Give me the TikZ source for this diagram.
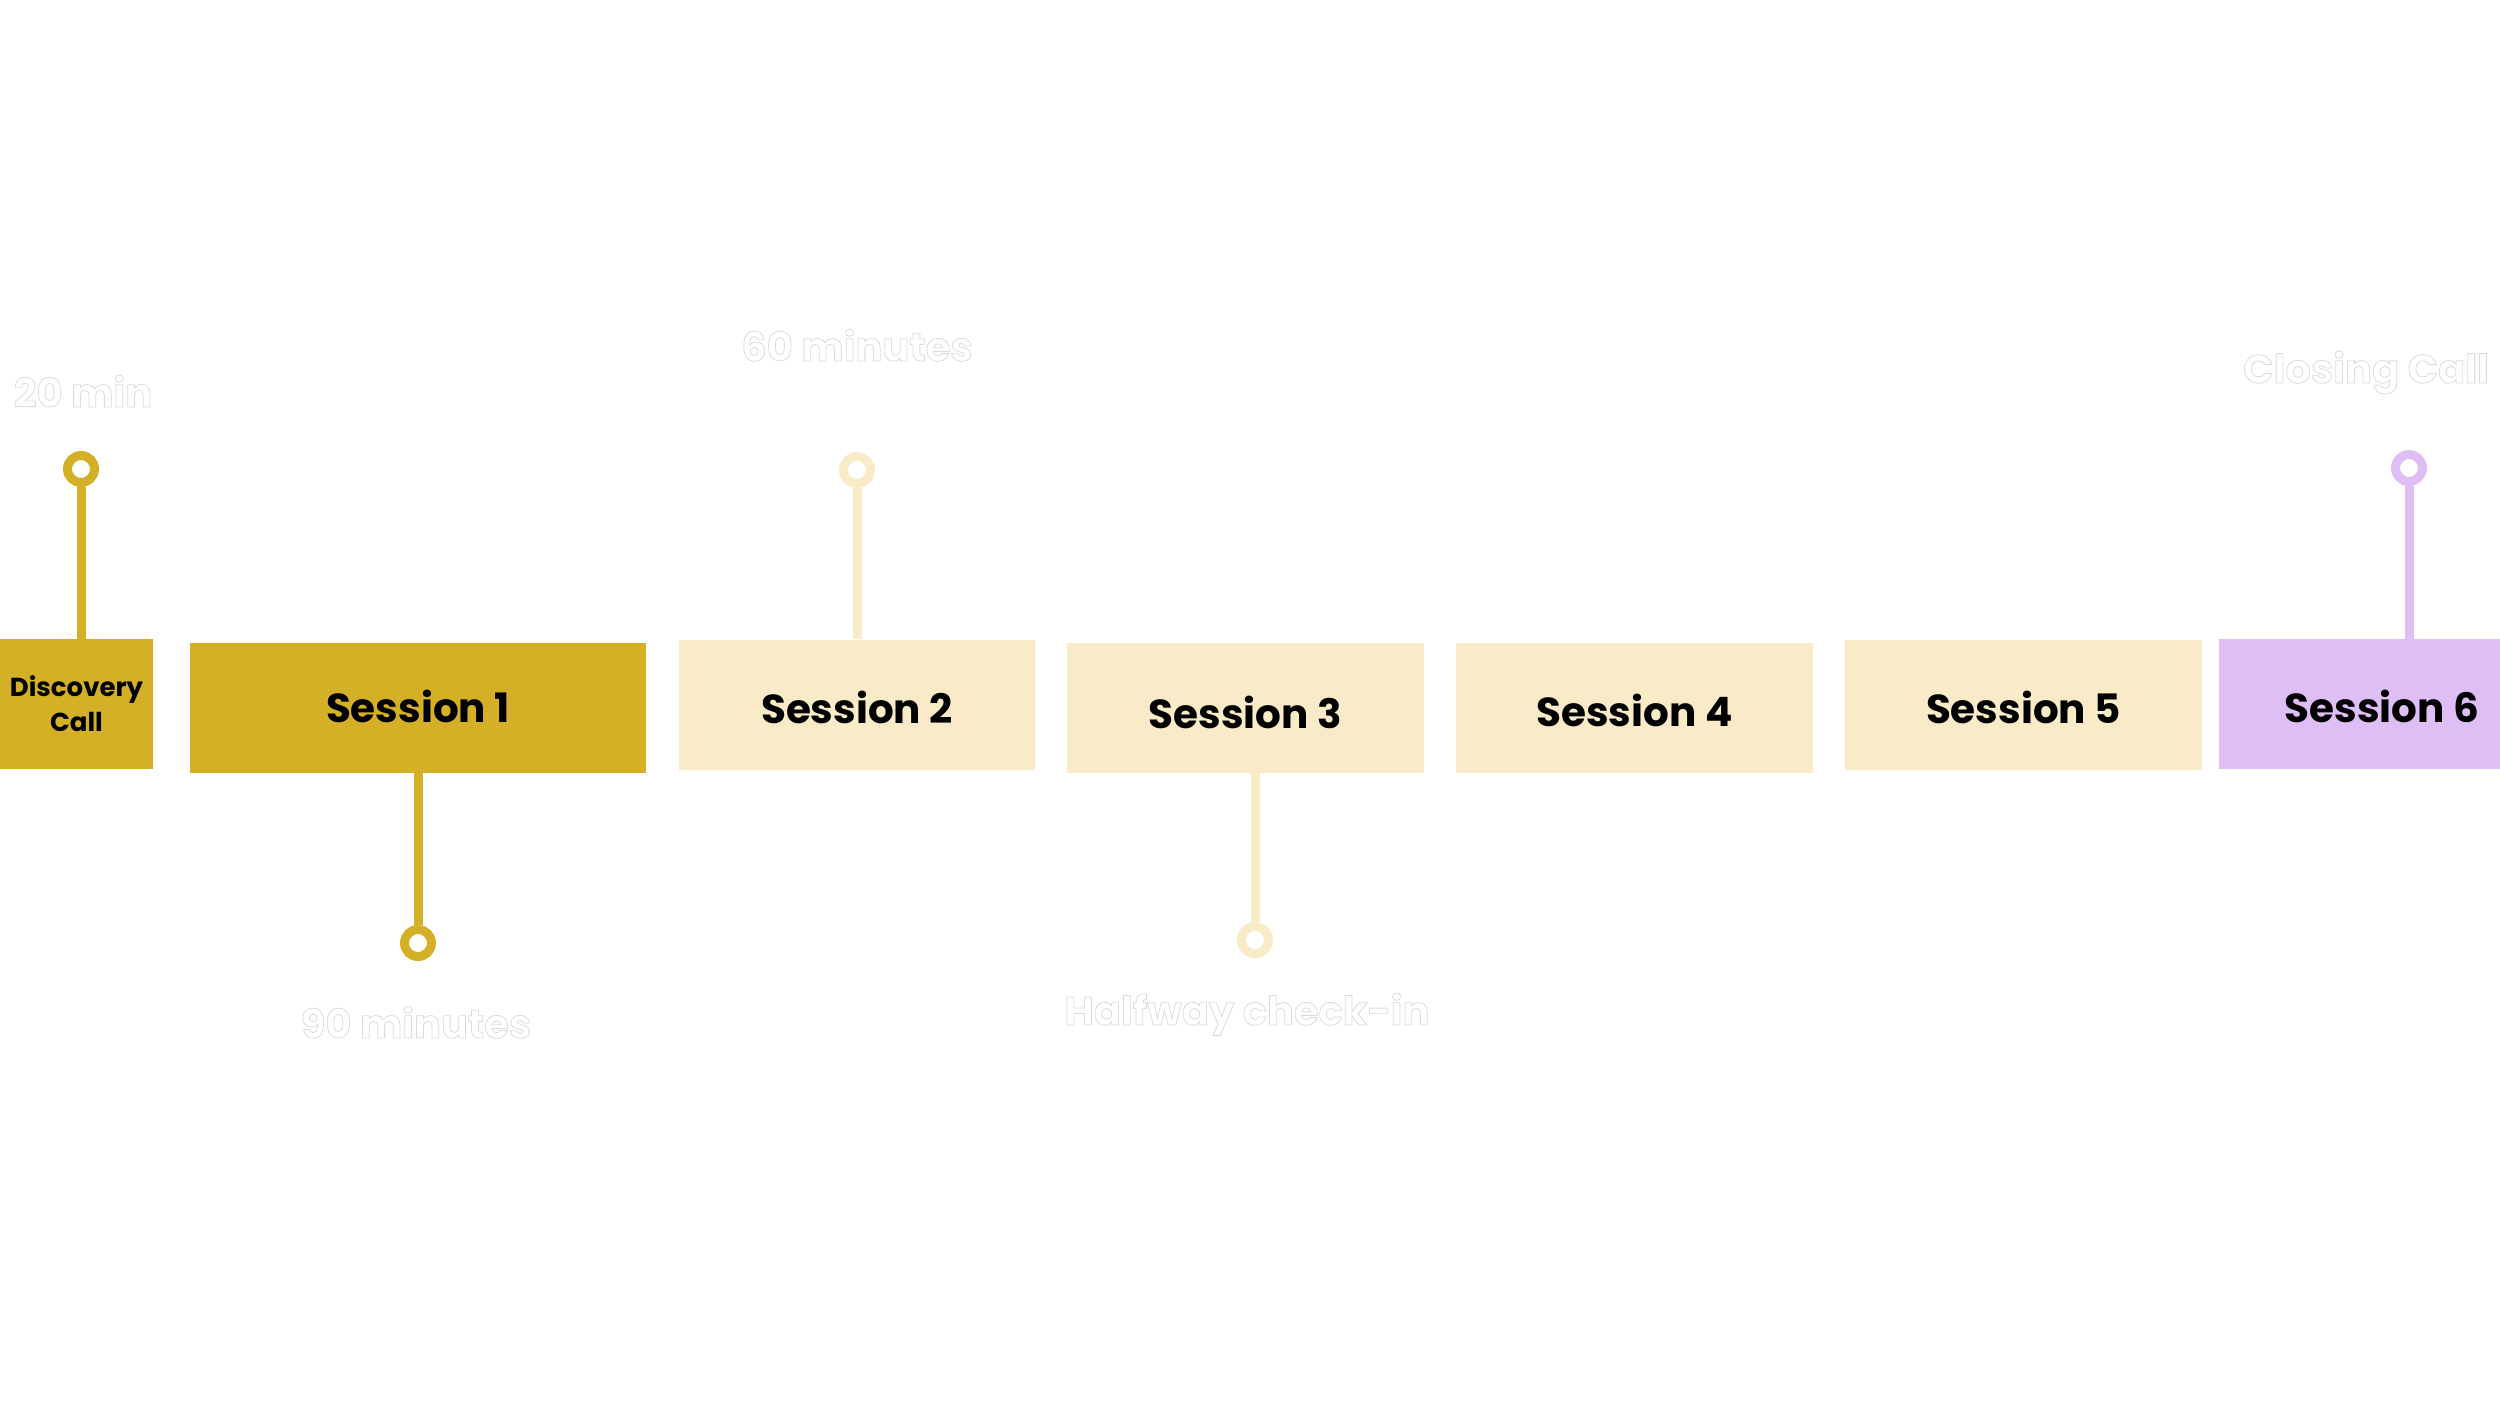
\documentclass[tikz,border=0pt]{standalone}
\usepackage{fontspec}
\setmainfont{Poppins}
\usetikzlibrary{positioning}
\definecolor{sessgold}{RGB}{212,176,39}
\definecolor{sesscream}{RGB}{250,235,200}
\definecolor{sesslilac}{RGB}{223,190,245}
\newcommand{\rimtext}[1]{\special{pdf:bcolor [1] [0.86]}\special{pdf:literal 2 Tr 0.8 w}#1\special{pdf:literal 0 Tr}\special{pdf:ecolor}}

\begin{document}
\begin{tikzpicture}[x=1pt,y=-1pt,
    box/.style={rectangle,minimum height=130,inner sep=0pt,
      font=\fontsize{40.5}{50}\selectfont\bfseries,text=black},
    ring/.style={circle,draw=#1,line width=9pt,minimum size=27pt,inner sep=0pt,fill=white},
    stem/.style={draw=#1,line width=9pt},
    timelabel/.style={anchor=base,font=\fontsize{40}{48}\selectfont\bfseries,text=white}]
    \path[use as bounding box] (0,0) rectangle (2500,1409);
    \node[box,fill=sessgold,minimum width=153,align=center,
      font=\fontsize{26}{35}\selectfont\bfseries] (disc) at (76.5,704) {Discovery\\Call};
    \foreach \n/\x/\y/\w/\c/\h/\t in {s1/418/707.5/456/sessgold/30/1, s2/857/704.5/356/sesscream/37/2,
        s3/1245.5/707.5/357/sesscream/42/3, s4/1634.5/707.5/357/sesscream/37/4,
        s5/2023.5/704.5/357/sesscream/37/5, s6/2382/704/326/sesslilac/37/6}
      \node[box,fill=\c,minimum width=\w,text height=\h pt,text depth=0pt] (\n) at (\x,\y) {Session \t};
    \node[ring=sessgold] (p0) at (81,469) {};
    \draw[stem=sessgold] (p0.south) -- (p0.south |- disc.north);
    \node[ring=sessgold] (p1) at (418,943) {};
    \draw[stem=sessgold] (s1.south) -- (p1.north);
    \node[ring=sesscream] (p2) at (857,470) {};
    \draw[stem=sesscream] (p2.south) -- (s2.north);
    \node[ring=sesscream] (p3) at (1255,940) {};
    \draw[stem=sesscream] (p3.north |- s3.south) -- (p3.north);
    \node[ring=sesslilac] (p6) at (2409,468) {};
    \draw[stem=sesslilac] (p6.south) -- (p6.south |- s6.north);
    \node[timelabel] (l0) at (83,407) {\rimtext{20 min}};
    \node[timelabel] (l1) at (416,1038) {\rimtext{90 minutes}};
    \node[timelabel] (l2) at (857,361) {\rimtext{60 minutes}};
    \node[timelabel] (l3) at (1247,1025) {\rimtext{Halfway check-in}};
    \node[timelabel] (l6) at (2366,383) {\rimtext{Closing Call}};
\end{tikzpicture}
\end{document}
